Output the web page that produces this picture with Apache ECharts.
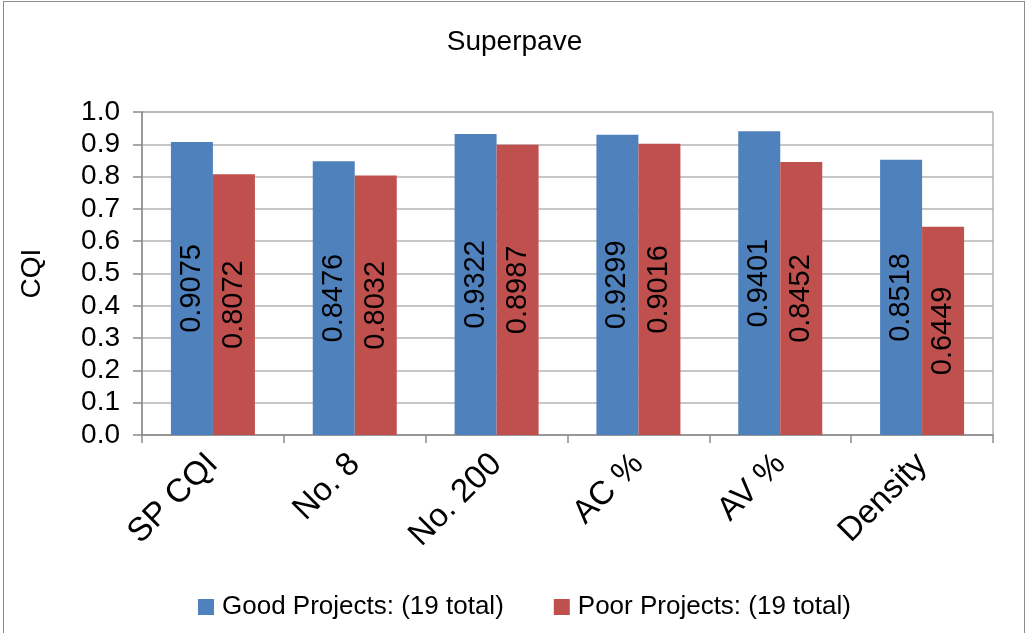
<!DOCTYPE html>
<html>
<head>
<meta charset="utf-8">
<script src="https://cdn.jsdelivr.net/npm/echarts@6/dist/echarts.min.js"></script>
<style>
  html, body { margin: 0; padding: 0; background: #fff; }
  #frame { position: absolute; left: 3px; top: 1px; width: 1022px; height: 640px; border: 1px solid #8c8c8c; box-sizing: border-box; }
  #bar { position: absolute; left: 0; top: 0; width: 1029px; height: 633px; }
</style>
</head>
<body>
<div id="frame"></div>
<div id="bar"></div>
<script>
const categories = ['SP CQI', 'No. 8', 'No. 200', 'AC %', 'AV %', 'Density']
const goodValues = [0.9075, 0.8476, 0.9322, 0.9299, 0.9401, 0.8518]
const poorValues = [0.8072, 0.8032, 0.8987, 0.9016, 0.8452, 0.6449]
const seriesNames = ['Good Projects: (19 total)', 'Poor Projects: (19 total)']

let myChart = echarts.init(document.getElementById('bar'))
var font = 'Liberation Sans'
var labelOption = {
	show: true,
	position: 'inside',
	rotate: 90,
	color: '#000',
	fontSize: 29,
	fontFamily: font,
	formatter: function (p) { return p.value.toFixed(4) }
}
let option = {
	animation: false,
	color: ['#4F81BD', '#C0504D'],
	title: {
		text: 'Superpave',
		left: 'center',
		top: 23,
		textStyle: { fontFamily: font, fontSize: 28, fontWeight: 'normal', color: '#000' }
	},
	legend: {
		data: seriesNames,
		bottom: 8,
		left: 193,
		itemWidth: 16,
		itemHeight: 16,
		itemGap: 50,
		icon: 'rect',
		textStyle: { fontFamily: font, fontSize: 26, color: '#000', padding: [0, 0, 0, 3] }
	},
	grid: {
		left: 142,
		right: 36,
		top: 112,
		bottom: 198,
		show: true,
		borderColor: '#8c8c8c',
		borderWidth: 1
	},
	xAxis: [{
		type: 'category',
		data: categories,
		axisLine: { lineStyle: { color: '#8c8c8c', width: 1.5 } },
		axisTick: { show: true, length: 8, lineStyle: { color: '#8c8c8c', width: 1.5 } },
		axisLabel: { rotate: 45, margin: 24, fontFamily: font, fontSize: 33, color: '#000' }
	}],
	yAxis: [{
		type: 'value',
		min: 0,
		max: 1,
		interval: 0.1,
		name: 'CQI',
		nameLocation: 'middle',
		nameGap: 96,
		nameTextStyle: { fontFamily: font, fontSize: 28, color: '#000' },
		axisLine: { show: true, lineStyle: { color: '#8c8c8c', width: 1.5 } },
		axisTick: { show: true, length: 9, lineStyle: { color: '#8c8c8c', width: 1.5 } },
		axisLabel: {
			margin: 22,
			fontFamily: font,
			fontSize: 28,
			color: '#000',
			formatter: function (v) { return v.toFixed(1) }
		},
		splitLine: { lineStyle: { color: '#b4b4b4', width: 1.5 } }
	}],
	series: [{
		name: seriesNames[0],
		type: 'bar',
		barWidth: 42,
		barGap: 0,
		label: labelOption,
		data: goodValues
	}, {
		name: seriesNames[1],
		type: 'bar',
		barWidth: 42,
		barGap: 0,
		label: labelOption,
		data: poorValues
	}]
}
myChart.setOption(option);
</script>
</body>
</html>
